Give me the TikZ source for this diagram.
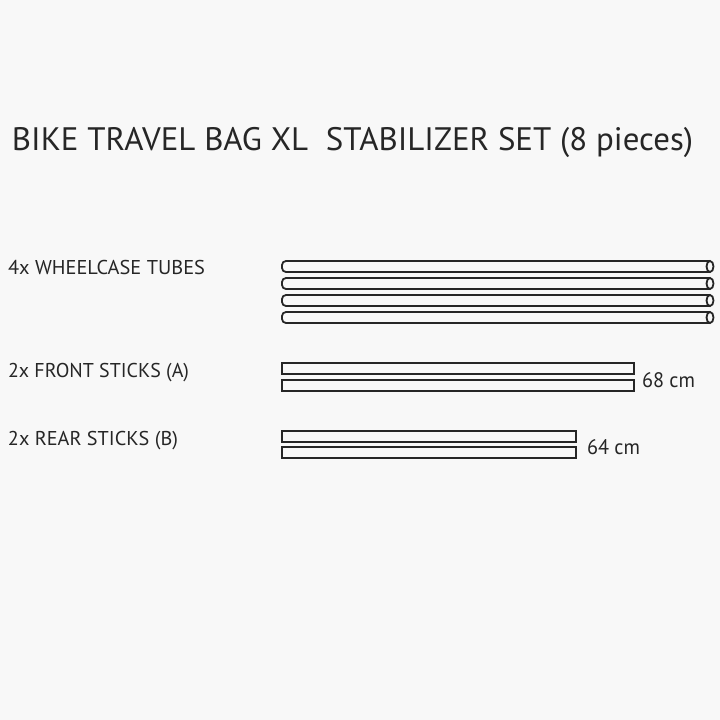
\documentclass[tikz,border=0pt]{standalone}
\usepackage{fontspec}
\setmainfont{PT Sans}
\usepackage{graphicx}
\definecolor{bg}{HTML}{F8F8F8}
\definecolor{ink}{HTML}{262626}
\newcommand{\fitw}[2]{\resizebox{#1}{\height}{#2}}
\begin{document}
\begin{tikzpicture}[x=1pt,y=-1pt,
  txt/.style={anchor=base west,inner sep=0pt,outer sep=0pt,text=ink},
  tube/.style={draw=ink,line width=1.8pt,rounded corners=4pt},
  tubeend/.style={draw=ink,fill=bg,line width=1.8pt},
  stick/.style={draw=ink,line width=1.8pt}]
\fill[bg] (0,0) rectangle (720,720);
\useasboundingbox (0,0) rectangle (720,720);
\node[txt,font=\fontsize{32.5}{36}\selectfont] (title) at (12,150.5) {\fitw{681pt}{BIKE TRAVEL BAG XL\ \ STABILIZER SET (8 pieces)}};
\node[txt,font=\fontsize{20}{24}\selectfont] (l1) at (8,274) {\fitw{197pt}{4x WHEELCASE TUBES}};
\node[txt,font=\fontsize{20}{24}\selectfont] (l2) at (8,377) {\fitw{181pt}{2x FRONT STICKS (A)}};
\node[txt,font=\fontsize{20}{24}\selectfont] (l3) at (8,445) {\fitw{170pt}{2x REAR STICKS (B)}};
\node[txt,font=\fontsize{21}{24}\selectfont] (d1) at (642,387) {\fitw{53pt}{68 cm}};
\node[txt,font=\fontsize{21}{24}\selectfont] (d2) at (587,454) {\fitw{53pt}{64 cm}};
\foreach \t/\n in {261/1,278/2,295/3,312/4}{
  \draw[tube] (710,\t) -- (282,\t) -- (282,\t+11) -- (710,\t+11);
  \draw[tubeend] (710,\t+5.5) ellipse [x radius=3.5,y radius=5.5];
}
\draw[stick] (282,363) rectangle (634,374);
\draw[stick] (282,380) rectangle (634,391);
\draw[stick] (282,431) rectangle (576,442);
\draw[stick] (282,447) rectangle (576,458);
\end{tikzpicture}
\end{document}
